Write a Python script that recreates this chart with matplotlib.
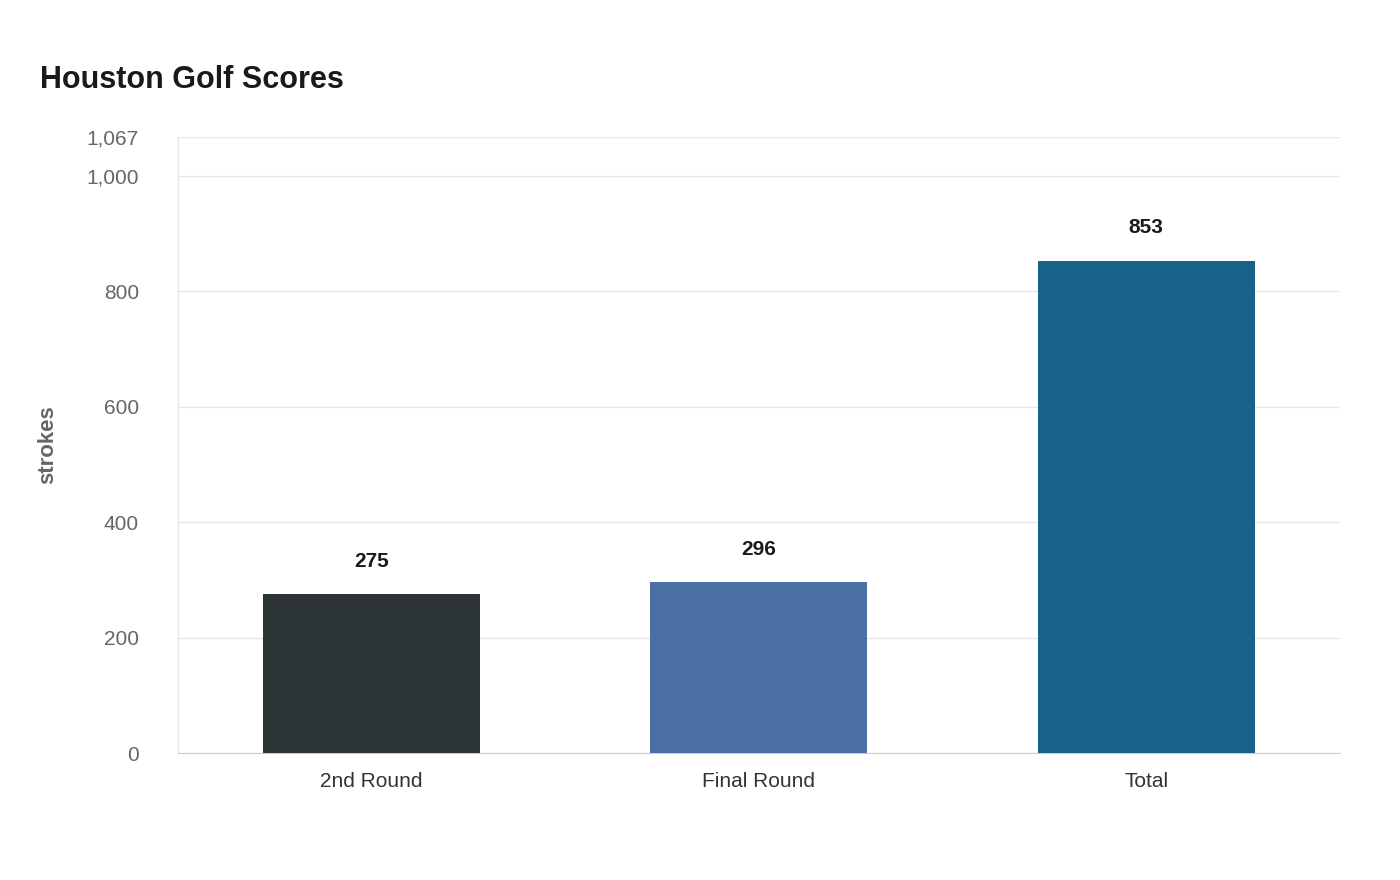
import matplotlib
matplotlib.use("Agg")
import matplotlib.pyplot as plt

categories = ["2nd Round", "Final Round", "Total"]
values = [275, 296, 853]
colors = ["#2d3436", "#4a6fa5", "#166288"]
yticks = [0, 200, 400, 600, 800, 1000, 1067]

plt.rcParams['font.family'] = ['Liberation Sans', 'DejaVu Sans']
fig = plt.figure(figsize=(14, 8.8), dpi=100)
ax = fig.add_axes([0.127, 0.1443, 0.83, 0.7])
x = list(range(len(categories)))
ax.bar(x, values, width=0.56, color=colors, zorder=3)
for xi, v in zip(x, values):
    ax.text(xi, v + 40, f"{v}", ha="center", va="bottom", fontsize=15, fontweight="bold", color="#1a1a1a")
ax.set_xlim(-0.5, 2.5)
ax.set_ylim(0, 1067)
ax.set_yticks(yticks)
ax.set_yticklabels([f"{t:,}" for t in yticks], fontsize=15, color="#666666")
ax.set_xticks(x)
ax.set_xticklabels(categories, fontsize=15, color="#333333")
ax.tick_params(axis="y", length=0, pad=28)
ax.tick_params(axis="x", length=0, pad=14)
ax.grid(axis="y", color="#e6e6e6", linewidth=1, zorder=0)
for s in ["top", "right"]:
    ax.spines[s].set_visible(False)
ax.spines["left"].set_color("#e6e6e6")
ax.spines["bottom"].set_color("#cccccc")
ax.set_ylabel("strokes", fontsize=16, fontweight="bold", color="#666666", labelpad=20)
fig.text(40/1400, 1-80/880, "Houston Golf Scores", fontsize=22, fontweight="bold", color="#1a1a1a", va="center")
fig.savefig("out.png", dpi=100, facecolor="white")
